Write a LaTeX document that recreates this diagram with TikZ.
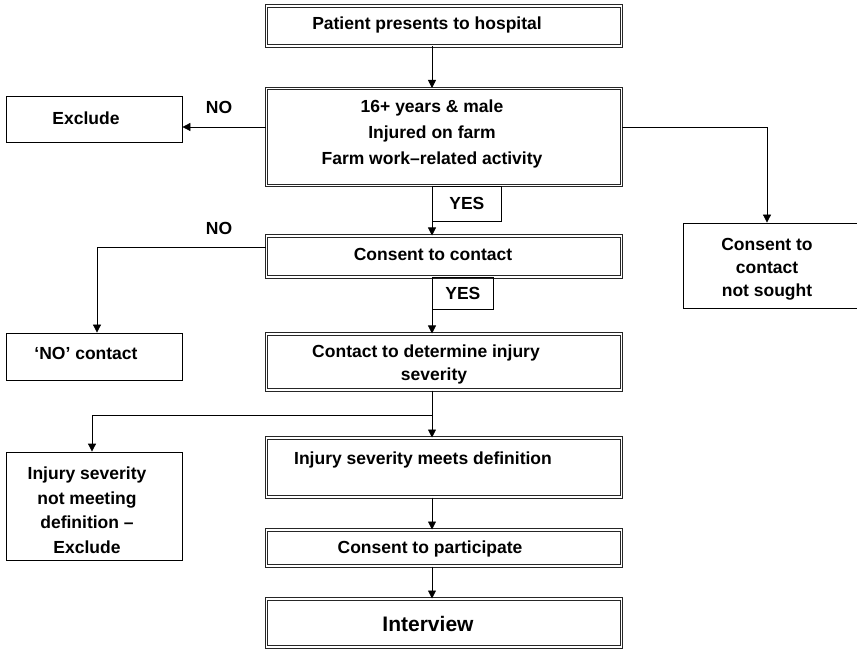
\documentclass[tikz,border=0pt]{standalone}
\usepackage{fontspec}
\setmainfont{Liberation Sans}
\usetikzlibrary{arrows.meta,positioning}

\tikzset{
  dbox/.style={draw=black!85, line width=1pt, double, double distance=1.3pt, minimum width=355pt, inner sep=0pt},
  sbox/.style={draw, line width=0.8pt, minimum width=176pt, inner sep=0pt},
  txt/.style={font=\fontsize{17.5}{24}\selectfont\bfseries, align=center, inner sep=0pt},
  arr/.style={line width=0.8pt, -{Triangle[length=8pt,width=8pt]}},
  yesbox/.style={draw, line width=0.8pt, anchor=north west, inner sep=0pt, font=\fontsize{17.5}{24}\selectfont\bfseries}
}

\begin{document}
\begin{tikzpicture}[x=1pt, y=-1pt]
\useasboundingbox (0,0) rectangle (857,652);

% main column
\node[dbox, minimum height=40pt] (patient) at (444,26) {};
\node[txt] (patient-t) at (427,25) {Patient presents to hospital};
\node[dbox, minimum height=97pt] (criteria) at (444,137) {};
\node[txt, font=\fontsize{17.5}{26}\selectfont\bfseries] (criteria-t) at (432,134)
  {16+ years \& male\\Injured on farm\\Farm work–related activity};
\node[dbox, minimum height=41pt] (consent) at (444,256.5) {};
\node[txt] (consent-t) at (433,254) {Consent to contact};
\node[dbox, minimum height=56pt] (contact) at (444,362) {};
\node[txt, font=\fontsize{17.5}{23}\selectfont\bfseries] (contact-t) at (426,364)
  {Contact to determine injury\\\hspace*{16pt}severity};
\node[dbox, minimum height=59pt] (injmeets) at (444,467.5) {};
\node[txt] (injmeets-t) at (423,460) {Injury severity meets definition};
\node[dbox, minimum height=36pt] (participate) at (444,548) {};
\node[txt] (participate-t) at (430,549) {Consent to participate};
\node[dbox, minimum height=48pt] (interview) at (444,623) {};
\node[txt, font=\fontsize{21}{26}\selectfont\bfseries] (interview-t) at (428,624) {Interview};

% side boxes
\node[sbox, minimum height=46pt] (exclude) at (94,119) {};
\node[txt] (exclude-t) at (86,118) {Exclude};
\node[sbox, minimum height=47pt] (nocontact) at (94,356.5) {};
\node[txt] (nocontact-t) at (86,353) {‘NO’ contact};
\node[sbox, minimum height=108pt] (notmeet) at (94,506) {};
\node[txt, font=\fontsize{17.5}{24.5}\selectfont\bfseries] (notmeet-t) at (87,510)
  {Injury severity\\not meeting\\definition –\\Exclude};
\node[sbox, minimum width=179pt, minimum height=85pt] (notsought) at (772.5,265.5) {};
\node[txt, font=\fontsize{17.5}{23}\selectfont\bfseries] (notsought-t) at (767,269)
  {Consent to\\contact\\not sought};

% connectors
\coordinate (spine) at (432,0);
\coordinate (nolevel) at (0,127);
\coordinate (nolevel2) at (0,247);
\coordinate (split) at (0,415);

\draw[arr] (spine |- patient.south) -- (spine |- criteria.north);
\draw[arr] (nolevel -| criteria.west) -- (nolevel -| exclude.east);
\node[txt] (no1) at (219,107) {NO};
\draw[arr] (nolevel -| criteria.east) -| ([xshift=-5.5pt]notsought.north);

\node[yesbox, minimum width=69pt, minimum height=35pt] (yes1) at (spine |- criteria.south) {YES};
\draw[arr] (spine |- criteria.south) -- (spine |- consent.north);
\draw[arr] (nolevel2 -| consent.west) -| ([xshift=3pt]nocontact.north);
\node[txt] (no2) at (219,228) {NO};

\node[yesbox, minimum width=61pt, minimum height=32pt] (yes2) at (spine |- consent.south) {YES};
\draw[arr] (spine |- consent.south) -- (spine |- contact.north);

\draw[arr] (spine |- contact.south) -- (spine |- injmeets.north);
\draw[arr] (spine |- split) -| ([xshift=-2pt]notmeet.north);
\draw[arr] (spine |- injmeets.south) -- (spine |- participate.north);
\draw[arr] (spine |- participate.south) -- (spine |- interview.north);
\end{tikzpicture}
\end{document}
